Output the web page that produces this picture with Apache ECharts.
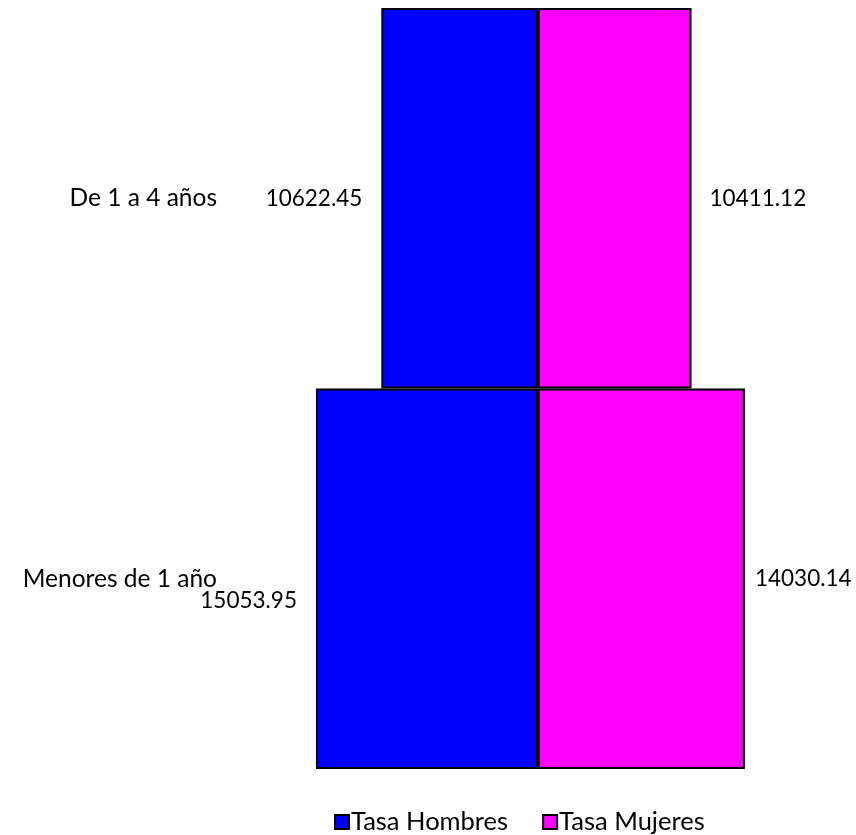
<!DOCTYPE html>
<html>
<head>
<meta charset="utf-8">
<script src="https://cdn.jsdelivr.net/npm/echarts@6/dist/echarts.min.js"></script>
<style>
  html, body { margin: 0; padding: 0; background: #fff; }
  #chart { width: 856px; height: 835px; }
</style>
</head>
<body>
<div id="chart"></div>
<script>
const categories = ['Menores de 1 año', 'De 1 a 4 años'];
const hombres = [15053.95, 10622.45];
const mujeres = [14030.14, 10411.12];

const font = 'Lato, "Open Sans", sans-serif';
const chart = echarts.init(document.getElementById('chart'));

// hombres go to the left, so they are drawn as negative values
const hombresData = hombres.map((v, i) => ({
  value: -v,
  label: i === 0 ? { offset: [0, 22] } : {}
}));
const mujeresData = mujeres.map((v, i) => ({
  value: v,
  label: i === 0 ? { distance: 10 } : {}
}));

chart.setOption({
  animation: false,
  grid: { left: 302, width: 472, top: 8, height: 761 },
  xAxis: {
    type: 'value', min: -16000, max: 16000,
    show: false
  },
  yAxis: {
    type: 'category',
    data: categories,
    axisLine: { show: false },
    axisTick: { show: false },
    axisLabel: { margin: 85, color: '#000', fontSize: 24.5, fontFamily: font }
  },
  legend: {
    bottom: -5,
    left: 329,
    itemWidth: 14,
    itemHeight: 14,
    itemGap: 34,
    icon: 'rect',
    textStyle: { color: '#000', fontSize: 25.5, fontFamily: font, padding: [0, 0, 0, -3] }
  },
  series: [
    {
      name: 'Tasa Hombres', type: 'bar', stack: 'total',
      barCategoryGap: '0%',
      data: hombresData,
      itemStyle: { color: '#0000ff', borderColor: '#000', borderWidth: 2 },
      label: {
        show: true, position: 'left', distance: 19,
        color: '#000', fontSize: 22.5, fontFamily: font,
        formatter: p => Math.abs(p.value).toFixed(2)
      }
    },
    {
      name: 'Tasa Mujeres', type: 'bar', stack: 'total',
      barCategoryGap: '0%',
      data: mujeresData,
      itemStyle: { color: '#ff00ff', borderColor: '#000', borderWidth: 2 },
      label: {
        show: true, position: 'right', distance: 18,
        color: '#000', fontSize: 22.5, fontFamily: font,
        formatter: p => p.value.toFixed(2)
      }
    }
  ]
});
</script>
</body>
</html>
